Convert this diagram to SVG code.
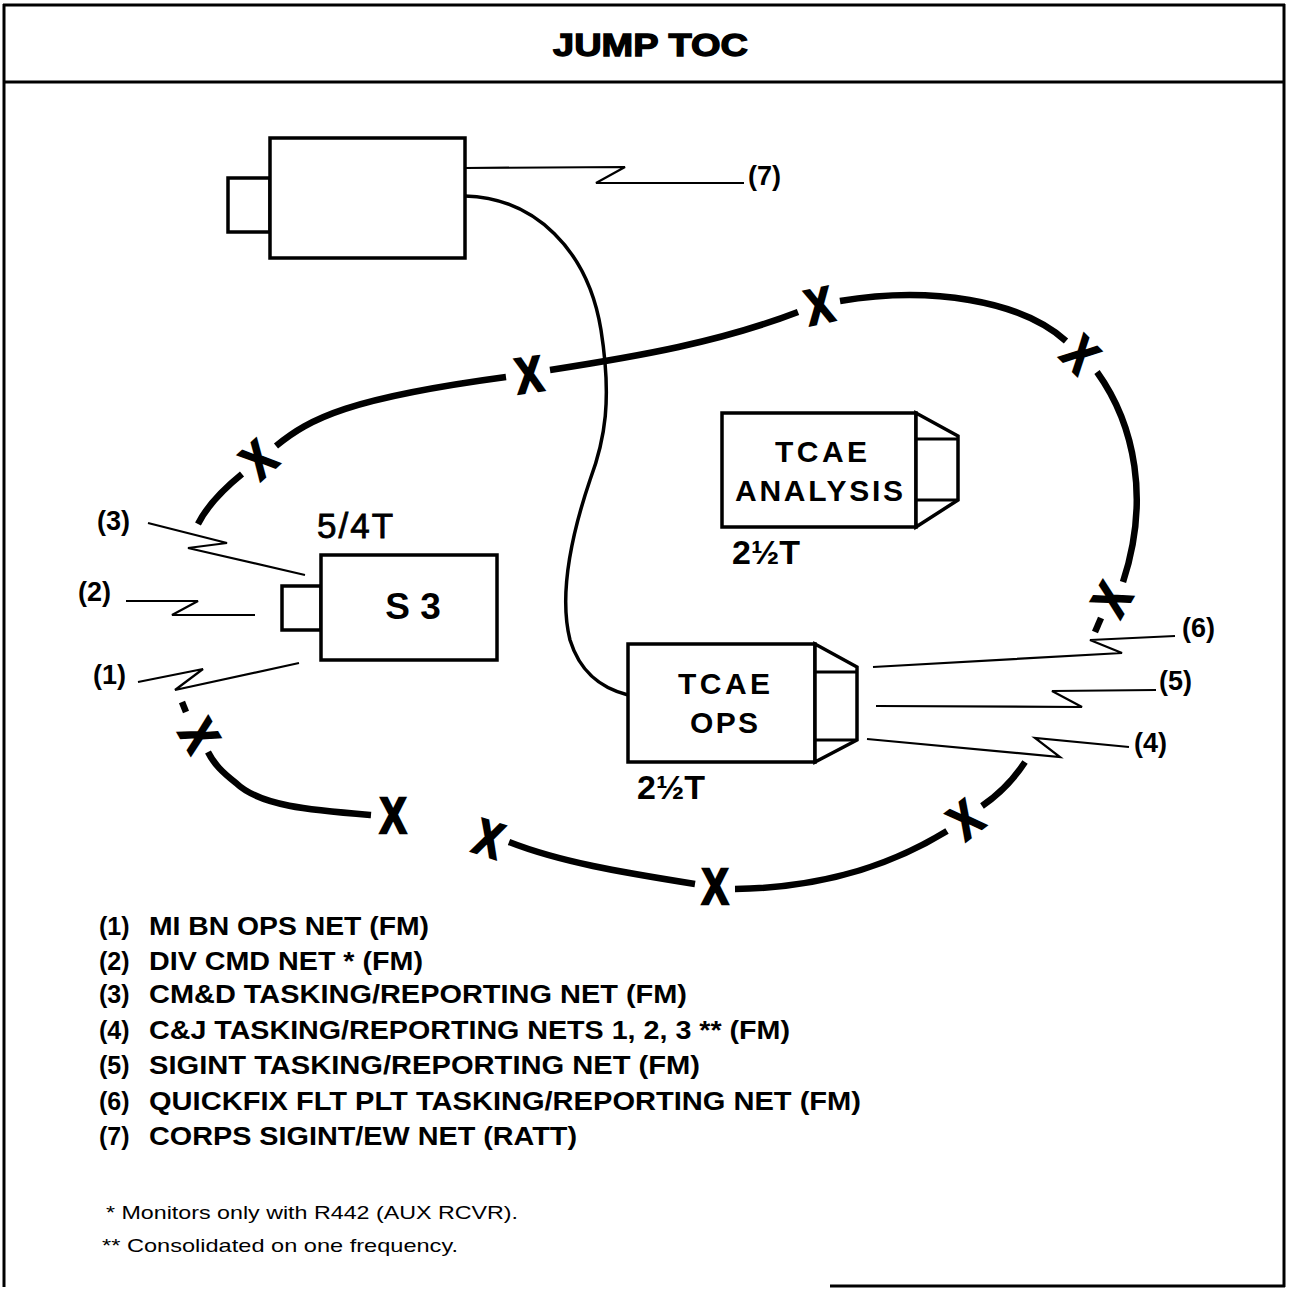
<svg xmlns="http://www.w3.org/2000/svg" width="1293" height="1289" viewBox="0 0 1293 1289">
<style>
.frame{fill:none;stroke:#000;stroke-width:3}
.box{fill:#fff;stroke:#000;stroke-width:3.5;stroke-linejoin:miter}
.ring{fill:none;stroke:#000;stroke-width:6.5;stroke-linecap:butt}
.cable{fill:none;stroke:#000;stroke-width:3.5}
.radio{fill:none;stroke:#000;stroke-width:2.2;stroke-linejoin:miter}
.t{font-family:"Liberation Sans",Arial,Helvetica,sans-serif;fill:#000}
.b{font-weight:bold}
.x{font-family:"Liberation Sans",Arial,sans-serif;font-weight:bold;font-size:50px;text-anchor:middle;fill:#000;stroke:#000;stroke-width:2.5}
.lbl{font-family:"Liberation Sans",Arial,sans-serif;font-weight:bold;font-size:27px;fill:#000}
.leg{font-family:"Liberation Sans",Arial,sans-serif;font-weight:bold;font-size:25px;fill:#000}
</style>

<g id="frame">
  <line class="frame" x1="3" y1="5" x2="1285" y2="5"/>
  <line class="frame" x1="4" y1="4" x2="4" y2="1287"/>
  <line class="frame" x1="1284" y1="4" x2="1284" y2="1287"/>
  <line class="frame" x1="830" y1="1286" x2="1285" y2="1286"/>
  <line class="frame" x1="4" y1="82" x2="1284" y2="82"/>
  <text class="t b" x="553" y="56" font-size="32" stroke="#000" stroke-width="1.3" textLength="195" lengthAdjust="spacingAndGlyphs">JUMP TOC</text>
</g>

<g id="connectors">
  <g id="ring">
    <path class="ring" d="M198,524 Q210,500 242,474"/>
    <path class="ring" d="M276,446 C310,418 350,398 506,377"/>
    <path class="ring" d="M550,370 C640,356 720,342 798,312"/>
    <path class="ring" d="M840,301 C930,286 1020,300 1066,341"/>
    <path class="ring" d="M1097,372 C1135,425 1150,500 1123,582"/>
    <path class="ring" d="M1101,618 L1095,632"/>
    <path class="ring" d="M1025,762 C1012,782 998,795 982,806"/>
    <path class="ring" d="M947,831 C880,872 810,888 735,889"/>
    <path class="ring" d="M695,884 C620,872 560,862 509,842"/>
    <path class="ring" d="M371,815 C310,810 260,806 236,783 C222,772 214,764 208,752"/>
    <path class="ring" d="M186,712 L182,702"/>
  </g>
  <g id="xmarks">
    <text class="x" transform="translate(258,459) rotate(-42) scale(0.8,1)" y="18">X</text>
    <text class="x" transform="translate(529,374) rotate(-8) scale(0.8,1)" y="18">X</text>
    <text class="x" transform="translate(819,305) rotate(-12) scale(0.8,1)" y="18">X</text>
    <text class="x" transform="translate(1081,354) rotate(45) scale(0.8,1)" y="18">X</text>
    <text class="x" transform="translate(1111,599) rotate(-60) scale(0.8,1)" y="18">X</text>
    <text class="x" transform="translate(965,819) rotate(-38) scale(0.8,1)" y="18">X</text>
    <text class="x" transform="translate(715,886) rotate(0) scale(0.8,1)" y="18">X</text>
    <text class="x" transform="translate(489,838) rotate(18) scale(0.8,1)" y="18">X</text>
    <text class="x" transform="translate(393,815) rotate(0) scale(0.8,1)" y="18">X</text>
    <text class="x" transform="translate(200,735) rotate(60) scale(0.8,1)" y="18">X</text>
  </g>
  <path id="cable" class="cable" d="M465,196 C535,198 588,250 601,330 C612,400 605,440 590,480 C568,545 560,600 570,640 C580,672 600,688 628,695"/>
  <g id="radio">
    <polyline class="radio" points="465,168 625,167 596,183 744,183"/>
    <polyline class="radio" points="148,523 227,543 188,548 305,575"/>
    <polyline class="radio" points="126,601 198,601 172,615 255,615"/>
    <polyline class="radio" points="138,682 203,669 175,690 299,663"/>
    <polyline class="radio" points="873,667 1122,653 1090,640 1175,636"/>
    <polyline class="radio" points="876,706 1082,707 1052,691 1156,690"/>
    <polyline class="radio" points="867,739 1060,757 1035,738 1129,747"/>
  </g>
</g>

<g id="node-top">
  <rect class="box" x="228" y="178" width="42" height="54"/>
  <rect class="box" x="270" y="138" width="195" height="120"/>
</g>

<g id="node-s3">
  <rect class="box" x="282" y="586" width="39" height="44"/>
  <rect class="box" x="321" y="555" width="176" height="105"/>
  <text class="t" x="317" y="538" font-size="35" letter-spacing="2" stroke="#000" stroke-width="0.8">5/4T</text>
  <text class="t b" x="413" y="619" font-size="37" text-anchor="middle">S 3</text>
</g>

<g id="node-tcae-analysis">
  <rect class="box" x="722" y="413" width="194" height="114"/>
  <path class="box" d="M916,413 L958,436 L958,500 L916,527 Z"/>
  <path class="radio" style="stroke-width:3" d="M916,439 H958 M916,500 H958"/>
  <text class="t b" x="821" y="462" font-size="30" text-anchor="middle" textLength="92" lengthAdjust="spacing">TCAE</text>
  <text class="t b" x="819" y="501" font-size="30" text-anchor="middle" textLength="168" lengthAdjust="spacing">ANALYSIS</text>
  <text class="t b" x="732" y="564" font-size="34">2½T</text>
</g>

<g id="node-tcae-ops">
  <rect class="box" x="628" y="644" width="187" height="118"/>
  <path class="box" d="M815,644 L857,667 L857,740 L815,762 Z"/>
  <path class="radio" style="stroke-width:3" d="M815,672 H857 M815,740 H857"/>
  <text class="t b" x="724" y="694" font-size="30" text-anchor="middle" textLength="92" lengthAdjust="spacing">TCAE</text>
  <text class="t b" x="724" y="733" font-size="30" text-anchor="middle" textLength="68" lengthAdjust="spacing">OPS</text>
  <text class="t b" x="637" y="799" font-size="34">2½T</text>
</g>

<g id="net-labels">
  <text class="lbl" x="748" y="185">(7)</text>
  <text class="lbl" x="97" y="530">(3)</text>
  <text class="lbl" x="78" y="601">(2)</text>
  <text class="lbl" x="93" y="684">(1)</text>
  <text class="lbl" x="1182" y="637">(6)</text>
  <text class="lbl" x="1159" y="690">(5)</text>
  <text class="lbl" x="1134" y="752">(4)</text>
</g>

<g id="legend">
  <text class="leg" x="99" y="935">(1)</text>
  <text class="leg" x="149" y="935" textLength="280" lengthAdjust="spacingAndGlyphs">MI BN OPS NET (FM)</text>
  <text class="leg" x="99" y="970">(2)</text>
  <text class="leg" x="149" y="970" textLength="274" lengthAdjust="spacingAndGlyphs">DIV CMD NET * (FM)</text>
  <text class="leg" x="99" y="1003">(3)</text>
  <text class="leg" x="149" y="1003" textLength="538" lengthAdjust="spacingAndGlyphs">CM&amp;D TASKING/REPORTING NET (FM)</text>
  <text class="leg" x="99" y="1039">(4)</text>
  <text class="leg" x="149" y="1039" textLength="641" lengthAdjust="spacingAndGlyphs">C&amp;J TASKING/REPORTING NETS 1, 2, 3 ** (FM)</text>
  <text class="leg" x="99" y="1074">(5)</text>
  <text class="leg" x="149" y="1074" textLength="551" lengthAdjust="spacingAndGlyphs">SIGINT TASKING/REPORTING NET (FM)</text>
  <text class="leg" x="99" y="1110">(6)</text>
  <text class="leg" x="149" y="1110" textLength="712" lengthAdjust="spacingAndGlyphs">QUICKFIX FLT PLT TASKING/REPORTING NET (FM)</text>
  <text class="leg" x="99" y="1145">(7)</text>
  <text class="leg" x="149" y="1145" textLength="428" lengthAdjust="spacingAndGlyphs">CORPS SIGINT/EW NET (RATT)</text>
  <text class="t" x="106" y="1219" font-size="19" textLength="412" lengthAdjust="spacingAndGlyphs">* Monitors only with R442 (AUX RCVR).</text>
  <text class="t" x="102" y="1252" font-size="19" textLength="356" lengthAdjust="spacingAndGlyphs">** Consolidated on one frequency.</text>
</g>
</svg>
